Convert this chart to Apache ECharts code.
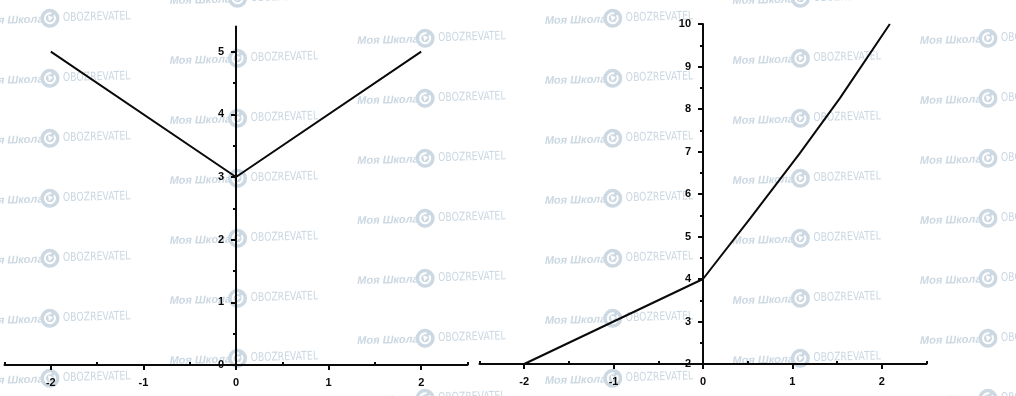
<!DOCTYPE html>
<html><head><meta charset="utf-8">
<script src="https://cdn.jsdelivr.net/npm/echarts@6/dist/echarts.min.js"></script>
<style>html,body{margin:0;padding:0;background:#fff}#c{width:1016px;height:396px}</style>
</head><body><div id="c"></div>
<script>
// ---- data ----
const xTicks = [-2, -1, 0, 1, 2];
const xMinorTicks = [-2.5, -1.5, -0.5, 0.5, 1.5, 2.5];
const leftYTicks = [0, 1, 2, 3, 4, 5];
const leftYMinorTicks = [0.5, 1.5, 2.5, 3.5, 4.5];
const rightYTicks = [2, 3, 4, 5, 6, 7, 8, 9, 10];
const rightYMinorTicks = [2.5, 3.5, 4.5, 5.5, 6.5, 7.5, 8.5, 9.5];
const leftX = [-2, 0, 2];
const leftY = [5, 3, 5];
const rightX = [-2, -1, 0, 0.53, 1.08, 1.53, 2.09];
const rightY = [2, 3, 4, 5.43, 6.95, 8.25, 10];
const watermarkLeft = 'Моя Школа';
const watermarkRight = 'OBOZREVATEL';

// ---- styles / layout ----
const INK = '#0a0a0a';
const WM = '#ccd8e2';
const labelStyle = { color: INK, fontSize: 11, fontWeight: 'bold', fontFamily: 'Liberation Sans' };
const fmt = v => (Math.abs(v - Math.round(v)) < 1e-9 ? String(Math.round(v)) : '');
const grids = [
  { left: 4.5, top: 26.6, width: 463, height: 338.4 },
  { left: 479.5, top: 24, width: 447, height: 340 }
];
const X_MIN = -2.5, X_MAX = 2.5;
// distance from grid left edge to x = 0 (the y axis sits there)
const zeroOffset = g => -g.width * (0 - X_MIN) / (X_MAX - X_MIN);

function mainX(gridIndex) {
  return {
    type: 'value', gridIndex, min: X_MIN, max: X_MAX, position: 'bottom',
    splitLine: { show: false },
    axisLine: { show: true, onZero: false, lineStyle: { color: INK, width: 2 } },
    axisTick: { show: true, length: 5, customValues: xTicks, lineStyle: { color: INK, width: 2 } },
    axisLabel: Object.assign({ customValues: xTicks, margin: 12, formatter: fmt }, labelStyle)
  };
}
function minorX(gridIndex) {
  return {
    type: 'value', gridIndex, min: X_MIN, max: X_MAX, position: 'bottom',
    splitLine: { show: false },
    axisLine: { show: false, onZero: false },
    axisTick: { show: true, inside: true, length: 3, customValues: xMinorTicks, lineStyle: { color: INK, width: 2 } },
    axisLabel: { show: false }
  };
}
function mainY(gridIndex, min, max, ticks) {
  return {
    type: 'value', gridIndex, min, max, position: 'left', offset: zeroOffset(grids[gridIndex]),
    splitLine: { show: false },
    axisLine: { show: true, onZero: false, lineStyle: { color: INK, width: 2 } },
    axisTick: { show: true, length: 5, customValues: ticks, lineStyle: { color: INK, width: 2 } },
    axisLabel: Object.assign({ customValues: ticks, margin: 12, formatter: fmt }, labelStyle)
  };
}
function minorY(gridIndex, min, max, ticks) {
  return {
    type: 'value', gridIndex, min, max, position: 'left', offset: zeroOffset(grids[gridIndex]),
    splitLine: { show: false },
    axisLine: { show: false, onZero: false },
    axisTick: { show: true, length: 3, customValues: ticks, lineStyle: { color: INK, width: 2 } },
    axisLabel: { show: false }
  };
}

// ---- watermark decoration ----
const watermarks = [];
const rowOffsets = [20, 0, 40];
for (let c = 0; c < 6; c++) {
  const gx = -18 + 187.6 * c;
  for (let r = -1; r < 8; r++) {
    const gy = rowOffsets[c % 3] + 60 * r;
    watermarks.push({
      type: 'group', x: gx, y: gy, rotation: 0.025, silent: true, z: -10,
      children: [
        { type: 'text', x: 0, y: 1, style: { text: watermarkLeft, fill: WM, font: 'italic bold 11px "Liberation Sans"', verticalAlign: 'middle' } },
        { type: 'circle', shape: { cx: 68, cy: 0, r: 9.5 }, style: { fill: WM } },
        { type: 'arc', shape: { cx: 68, cy: 0, r: 5, startAngle: -Math.PI * 0.2, endAngle: Math.PI * 1.6 }, style: { stroke: '#fff', lineWidth: 2, fill: null } },
        { type: 'polygon', shape: { points: [[66, -3], [71, -1], [67, 3]] }, style: { fill: '#fff' } },
        { type: 'text', x: 81, y: 0, scaleX: 0.86, style: { text: watermarkRight, fill: WM, font: '12px "DejaVu Sans Condensed"', verticalAlign: 'middle' } }
      ]
    });
  }
}

const chart = echarts.init(document.getElementById('c'), null, { renderer: 'canvas' });
chart.setOption({
  backgroundColor: '#ffffff',
  animation: false,
  graphic: { elements: watermarks },
  grid: grids.map(g => Object.assign({ containLabel: false, outerBoundsMode: 'none' }, g)),
  xAxis: [mainX(0), minorX(0), mainX(1), minorX(1)],
  yAxis: [
    mainY(0, 0, 5.4, leftYTicks), minorY(0, 0, 5.4, leftYMinorTicks),
    mainY(1, 2, 10, rightYTicks), minorY(1, 2, 10, rightYMinorTicks)
  ],
  series: [
    {
      type: 'line', xAxisIndex: 0, yAxisIndex: 0, showSymbol: false, z: 5,
      lineStyle: { color: INK, width: 2 },
      data: leftX.map((x, i) => [x, leftY[i]])
    },
    {
      type: 'line', xAxisIndex: 2, yAxisIndex: 2, showSymbol: false, z: 5,
      lineStyle: { color: INK, width: 2 },
      data: rightX.map((x, i) => [x, rightY[i]])
    }
  ]
});
</script>
</body></html>
